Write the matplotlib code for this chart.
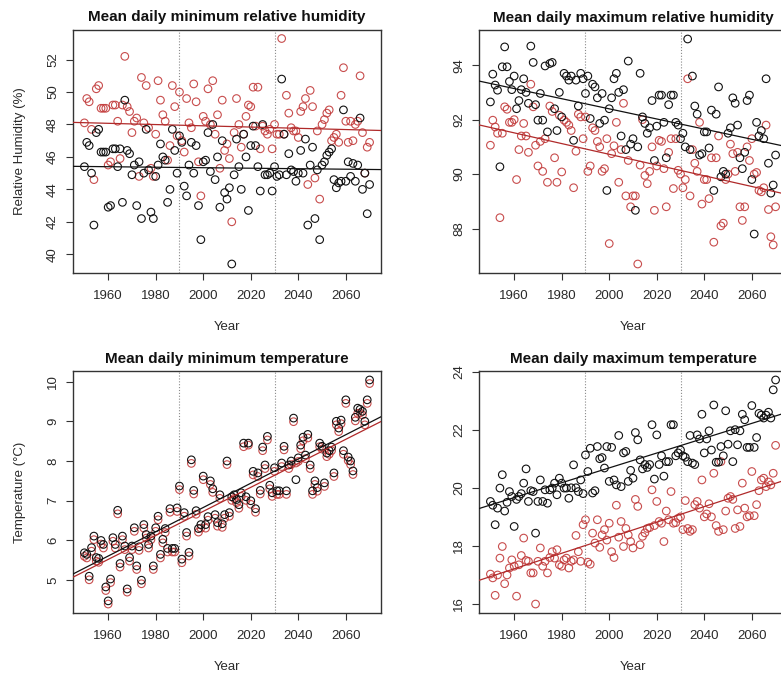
import matplotlib
matplotlib.use("Agg")
import matplotlib.pyplot as plt
import numpy as np

plt.rcParams['font.family'] = ['Liberation Sans', 'DejaVu Sans']

years = list(range(1950, 2071))
period_breaks = [1990, 2030]
trend_x = [1945, 2075]

# ---- Mean daily minimum relative humidity (%)
rhmin_black = [
    45.4, 46.9, 46.7, 45.0, 41.8, 47.5, 47.7, 46.3, 46.3, 46.3,
    42.9, 43.0, 46.5, 46.5, 45.4, 46.5, 43.2, 49.5, 46.4, 46.2,
    44.9, 45.5, 43.0, 45.7, 42.2, 45.0, 47.7, 45.2, 42.6, 42.2,
    44.8, 45.5, 46.8, 46.0, 45.8, 43.2, 44.0, 47.7, 46.4, 45.0,
    47.3, 46.9, 44.2, 43.6, 45.5, 46.9, 45.0, 46.7, 43.0, 40.9,
    45.7, 45.8, 47.5, 45.1, 48.0, 44.6, 46.0, 42.9, 47.0, 43.8,
    43.4, 44.1, 39.4, 44.9, 47.1, 45.4, 44.0, 47.4, 46.0, 42.7,
    46.7, 47.9, 46.7, 45.4, 43.9, 48.0, 44.9, 44.9, 45.0, 43.9,
    45.4, 44.8, 44.9, 50.8, 47.4, 44.9, 46.2, 45.2, 45.1, 44.5,
    45.0, 46.4, 45.0, 47.1, 41.8, 45.5, 46.6, 42.2, 45.2, 40.9,
    45.5, 45.7, 46.1, 46.3, 46.5, 44.6, 44.1, 44.4, 44.5, 48.9,
    44.5, 45.7, 44.8, 45.6, 44.5, 45.5, 48.4, 44.0, 45.0, 42.5,
    44.3]
rhmin_red = [
    48.1, 49.6, 49.4, 47.7, 44.6, 50.2, 50.4, 49.0, 49.0, 49.0,
    45.5, 45.7, 49.2, 49.2, 48.2, 45.9, 49.2, 52.2, 49.1, 48.8,
    47.5, 48.2, 48.4, 44.8, 50.9, 48.1, 50.4, 47.8, 45.3, 44.8,
    47.4, 50.7, 49.5, 48.6, 48.2, 45.8, 46.7, 50.4, 49.1, 47.3,
    50.0, 47.0, 46.3, 49.6, 48.1, 47.8, 50.5, 49.4, 45.7, 43.6,
    48.5, 48.2, 50.2, 48.0, 50.7, 47.4, 48.6, 45.3, 49.5, 46.4,
    46.8, 45.9, 42.0, 47.5, 49.6, 48.0, 46.6, 47.4, 48.5, 49.2,
    49.1, 50.3, 47.9, 50.3, 46.5, 47.9, 47.6, 47.4, 47.7, 46.5,
    48.0, 47.4, 47.4, 53.3, 47.4, 49.8, 48.7, 47.8, 47.6, 47.6,
    47.2, 48.8, 49.1, 49.6, 44.3, 50.1, 49.1, 44.7, 47.6, 43.4,
    48.0, 48.3, 48.7, 48.9, 47.0, 47.2, 47.4, 46.9, 49.8, 51.5,
    48.2, 46.9, 48.2, 47.0, 48.0, 48.2, 51.0, 47.5, 45.0, 46.6,
    46.9]
rhmin_trend_black = [45.42, 45.22]
rhmin_trend_red = [48.13, 47.63]

# ---- Mean daily maximum relative humidity (%)
rhmax_black = [
    92.65, 93.67, 93.27, 93.08, 90.27, 93.94, 94.67, 93.94, 93.4, 93.1,
    93.6, 92.4, 92.7, 93.1, 93.5, 93.0, 92.6, 94.7, 94.1, 92.55,
    91.98, 92.96, 91.98, 93.97, 91.55, 94.06, 94.1, 92.4, 91.6, 93.0,
    92.1, 93.7, 93.6, 93.45, 93.6, 91.24, 93.45, 92.5, 93.7, 93.5,
    92.96, 93.6, 92.04, 93.3, 93.2, 92.8, 91.86, 92.96, 91.98, 89.4,
    92.4, 92.8, 93.5, 93.7, 93.0, 91.4, 93.1, 90.9, 94.15, 91.1,
    91.3, 88.67, 91.0, 93.7, 92.1, 91.86, 91.5, 91.7, 92.7, 90.5,
    91.76, 92.9, 92.9, 91.9, 90.6, 92.55, 92.9, 92.9, 91.9, 91.8,
    91.3, 91.5, 91.0, 94.96, 90.9, 93.6, 92.5, 92.2, 90.7, 90.75,
    91.55, 91.55, 90.96, 92.35, 89.4, 92.2, 93.2, 89.9, 90.1, 90.0,
    91.5, 91.7, 92.8, 92.6, 91.8, 90.6, 90.2, 90.8, 92.7, 92.9,
    89.8, 87.8, 91.9, 91.4, 91.6, 91.3, 93.5, 90.4, 89.3, 89.6,
    90.7]
rhmax_red = [
    91.06, 91.98, 91.73, 91.5, 88.4, 91.5, 92.47, 92.38, 91.9, 91.9,
    92.0, 89.8, 90.9, 91.4, 91.86, 91.4, 90.8, 93.3, 92.47, 91.06,
    90.3, 91.2, 90.1, 91.3, 89.7, 92.5, 92.3, 90.6, 89.7, 92.16,
    90.08, 91.98, 91.9, 91.8, 91.6, 89.5, 90.84, 92.2, 92.1, 91.3,
    92.1, 90.1, 90.3, 91.7, 91.6, 91.2, 91.0, 90.1, 90.2, 91.3,
    87.45, 90.75, 91.04, 91.9, 89.7, 90.9, 92.6, 89.2, 90.5, 88.8,
    89.2, 89.2, 86.7, 90.33, 92.0, 89.95, 89.65, 90.1, 91.0, 88.67,
    90.3, 91.24, 91.2, 90.2, 88.8, 90.8, 91.3, 89.47, 91.3, 90.14,
    90.0, 89.5, 89.8, 93.5, 89.2, 90.9, 90.4, 90.1, 91.9, 88.9,
    89.8, 89.8, 89.1, 90.6, 87.5, 90.6, 91.4, 88.1, 88.2, 89.8,
    90.0, 91.1, 90.75, 90.1, 90.8, 88.8, 88.3, 88.8, 91.0, 90.5,
    91.3, 90.0, 90.06, 89.4, 89.35, 89.5, 91.8, 88.7, 87.7, 87.4,
    88.8]
rhmax_trend_black = [93.42, 91.0]
rhmax_trend_red = [91.81, 89.25]

# ---- Mean daily minimum temperature (deg C)
tmin_black = [
    5.69, 5.65, 5.10, 5.82, 6.11, 5.57, 5.55, 6.00, 5.90, 4.83,
    4.48, 5.03, 6.07, 5.90, 6.76, 5.42, 6.11, 5.86, 4.78, 5.57,
    5.86, 6.32, 5.36, 5.84, 5.00, 6.40, 6.15, 5.90, 6.11, 5.36,
    6.32, 6.61, 5.65, 6.03, 6.30, 5.80, 6.80, 5.80, 5.80, 6.82,
    7.37, 5.53, 6.70, 6.20, 5.70, 8.03, 7.26, 6.75, 6.30, 6.40,
    7.62, 6.40, 6.60, 7.50, 7.30, 6.65, 6.45, 7.15, 6.42, 6.65,
    8.00, 6.70, 7.10, 7.15, 7.03, 6.90, 7.20, 8.45, 7.10, 8.45,
    7.00, 7.74, 6.80, 7.70, 7.26, 8.35, 7.90, 8.62, 7.39, 7.20,
    7.83, 7.25, 7.25, 7.95, 8.37, 7.25, 7.90, 8.00, 9.08, 7.53,
    8.08, 8.40, 8.60, 8.15, 8.67, 7.90, 7.25, 7.50, 7.33, 8.45,
    8.37, 7.45, 8.20, 8.26, 8.35, 7.70, 9.00, 8.83, 9.03, 8.26,
    9.54, 8.10, 8.00, 7.75, 9.10, 9.33, 9.30, 9.25, 9.00, 9.54,
    10.04]
tmin_red = [
    5.60, 5.56, 5.01, 5.73, 6.02, 5.48, 5.45, 5.91, 5.81, 4.74,
    4.40, 4.94, 5.98, 5.81, 6.67, 5.33, 6.02, 5.77, 4.70, 5.48,
    5.77, 6.23, 5.27, 5.75, 4.91, 6.31, 6.06, 5.81, 6.02, 5.27,
    6.23, 6.52, 5.56, 5.94, 6.20, 5.71, 6.71, 5.71, 5.71, 6.73,
    7.28, 5.44, 6.61, 6.11, 5.61, 7.94, 7.17, 6.66, 6.21, 6.31,
    7.53, 6.31, 6.51, 7.41, 7.21, 6.56, 6.36, 7.06, 6.33, 6.56,
    7.91, 6.61, 7.01, 7.06, 6.95, 6.81, 7.11, 8.36, 7.01, 8.40,
    6.91, 7.65, 6.71, 7.61, 7.17, 8.26, 7.81, 8.53, 7.30, 7.11,
    7.74, 7.16, 7.16, 7.86, 8.28, 7.16, 7.81, 7.91, 8.99, 7.95,
    7.99, 8.31, 8.51, 8.06, 8.58, 7.81, 7.16, 7.41, 7.24, 8.36,
    8.30, 7.36, 8.11, 8.17, 8.26, 7.61, 8.91, 8.74, 8.94, 8.17,
    9.45, 8.01, 7.91, 7.66, 9.01, 9.20, 9.21, 9.16, 8.91, 9.45,
    9.95]
tmin_trend_black = [5.15, 9.12]
tmin_trend_red = [5.07, 9.00]

# ---- Mean daily maximum temperature (deg C)
tmax_black = [
    19.53, 19.4, 18.73, 19.3, 19.99, 20.45, 19.2, 19.5, 19.87, 19.7,
    18.67, 19.6, 19.7, 19.8, 20.16, 20.65, 19.53, 19.9, 19.87, 18.44,
    19.53, 20.27, 19.53, 19.93, 19.47, 19.93, 19.99, 20.16, 19.76, 20.33,
    20.16, 19.99, 19.99, 19.64, 20.0, 20.79, 20.0, 19.87, 20.27, 19.8,
    21.13, 20.56, 21.36, 19.82, 19.9, 21.42, 21.0, 21.04, 20.68, 21.42,
    20.22, 21.39, 20.27, 20.1, 21.8, 20.04, 21.2, 21.25, 20.22, 20.6,
    20.33, 21.9, 21.65, 20.96, 20.65, 20.8, 20.7, 20.8, 22.17, 20.3,
    21.82, 20.8, 21.1, 20.4, 20.9, 20.9, 22.17, 22.17, 21.1, 21.2,
    21.3, 21.1, 21.05, 20.9, 21.8, 20.85, 20.8, 21.82, 21.68, 22.53,
    21.2, 21.68, 21.96, 21.3, 22.85, 20.88, 20.88, 21.42, 21.1, 22.65,
    21.5, 21.96, 20.9, 22.0, 21.48, 21.96, 22.53, 22.34, 21.39, 21.39,
    22.83, 21.39, 21.73, 22.56, 22.5, 22.4, 22.5, 22.6, 22.4, 23.37,
    23.71]
tmax_red = [
    17.03, 16.9, 16.3, 17.0, 17.58, 17.98, 16.7, 17.0, 17.24, 17.52,
    17.3, 16.27, 17.35, 17.67, 18.27, 17.5, 17.47, 17.07, 17.07, 16.0,
    17.47, 17.93, 17.3, 17.47, 17.07, 17.6, 17.8, 17.58, 17.87, 17.35,
    17.3, 17.52, 17.58, 17.24, 17.47, 17.52, 18.36, 17.8, 17.47, 18.73,
    18.9, 17.44, 17.37, 18.44, 18.1, 18.9, 17.95, 18.38, 18.56, 18.2,
    18.78, 17.8, 17.6, 19.4, 18.3, 18.84, 17.98, 18.6, 18.38, 18.15,
    17.93, 19.6, 19.36, 18.04, 18.33, 18.45, 18.6, 18.63, 19.93, 18.7,
    19.53, 18.84, 18.78, 18.15, 19.2, 18.9, 19.87, 18.78, 18.8, 18.95,
    19.0, 18.56, 19.56, 18.6, 18.5, 18.56, 19.42, 19.53, 19.3, 20.27,
    19.0, 19.1, 19.45, 19.0, 20.5, 18.7, 18.5, 20.9, 18.56, 19.2,
    19.64, 19.7, 19.6, 18.6, 19.24, 18.67, 20.16, 19.3, 19.0, 19.04,
    20.56, 19.04, 19.42, 19.9, 20.27, 20.33, 20.04, 20.2, 20.1, 20.5,
    21.46]
tmax_trend_black = [19.28, 22.6]
tmax_trend_red = [16.81, 20.29]

titles = ["Mean daily minimum relative humidity",
          "Mean daily maximum relative humidity",
          "Mean daily minimum temperature",
          "Mean daily maximum temperature"]
ylabels = ["Relative Humidity (%)", "", "Temperature (\u00b0C)", ""]
xlabel = "Year"
xticks = [1960, 1980, 2000, 2020, 2040, 2060]
yticks_list = [[40, 42, 44, 46, 48, 50, 52],
               [88, 90, 92, 94],
               [5, 6, 7, 8, 9, 10],
               [16, 18, 20, 22, 24]]

panels = [
    (rhmin_black, rhmin_red, rhmin_trend_black, rhmin_trend_red),
    (rhmax_black, rhmax_red, rhmax_trend_black, rhmax_trend_red),
    (tmin_black, tmin_red, tmin_trend_black, tmin_trend_red),
    (tmax_black, tmax_red, tmax_trend_black, tmax_trend_red),
]

W, H = 781, 680
fig = plt.figure(figsize=(W / 100, H / 100), dpi=100)

# axes boxes in pixels: left, top, right, bottom
boxes = [(73, 29.5, 381, 273), (479, 30, 787, 273),
         (73, 371, 381, 613), (479, 371, 787, 613)]

BLACK = "#111111"
RED = "#c23a3a"
FRAME = "#333333"
TXT = "#2a2a2a"

for i, (box, (blk, red, tb, tr)) in enumerate(zip(boxes, panels)):
    l, t, r, b = box
    ax = fig.add_axes([l / W, 1 - b / H, (r - l) / W, (b - t) / H])
    yrs = np.array(years)
    blk = np.array(blk)
    red = np.array(red)
    for pb in period_breaks:
        ax.axvline(pb, color="#8a8a8a", lw=0.8, ls=(0, (1, 1.6)), zorder=1)
    ax.scatter(yrs, red, s=30, facecolors="none", edgecolors=RED,
               linewidths=0.8, zorder=2, alpha=0.9)
    ax.scatter(yrs, blk, s=30, facecolors="none", edgecolors=BLACK,
               linewidths=0.8, zorder=3)
    ax.plot(trend_x, tb, color=BLACK, lw=0.9, zorder=4)
    ax.plot(trend_x, tr, color="#b02a2a", lw=0.9, zorder=4)

    x0, x1 = min(years), max(years)
    dx = 0.04 * (x1 - x0)
    ax.set_xlim(x0 - dx, x1 + dx)
    allv = np.concatenate([blk, red])
    lo, hi = allv.min(), allv.max()
    dy = 0.04 * (hi - lo)
    ax.set_ylim(lo - dy, hi + dy)

    ax.set_xticks(xticks)
    ax.set_yticks(yticks_list[i])
    ax.tick_params(axis="both", direction="out", length=5, width=0.8,
                   color=FRAME, labelsize=9.5, pad=5, labelcolor=TXT)
    ax.tick_params(axis="x", pad=7)
    ax.tick_params(axis="y", labelrotation=90)
    for lab in ax.get_yticklabels():
        lab.set_va("center")
    for sp in ax.spines.values():
        sp.set_color(FRAME)
        sp.set_linewidth(1.0)

    ax.set_title(titles[i], fontsize=11, fontweight="bold", pad=6,
                 color="#111111")
    ax.set_xlabel(xlabel, fontsize=9.5, color=TXT)
    ax.xaxis.set_label_coords(0.5, -48 / (b - t))
    if ylabels[i]:
        ax.set_ylabel(ylabels[i], fontsize=9.5, color=TXT)
        ax.yaxis.set_label_coords(-47 / (r - l), 0.5)

fig.savefig("out.png", dpi=100, facecolor="white")
